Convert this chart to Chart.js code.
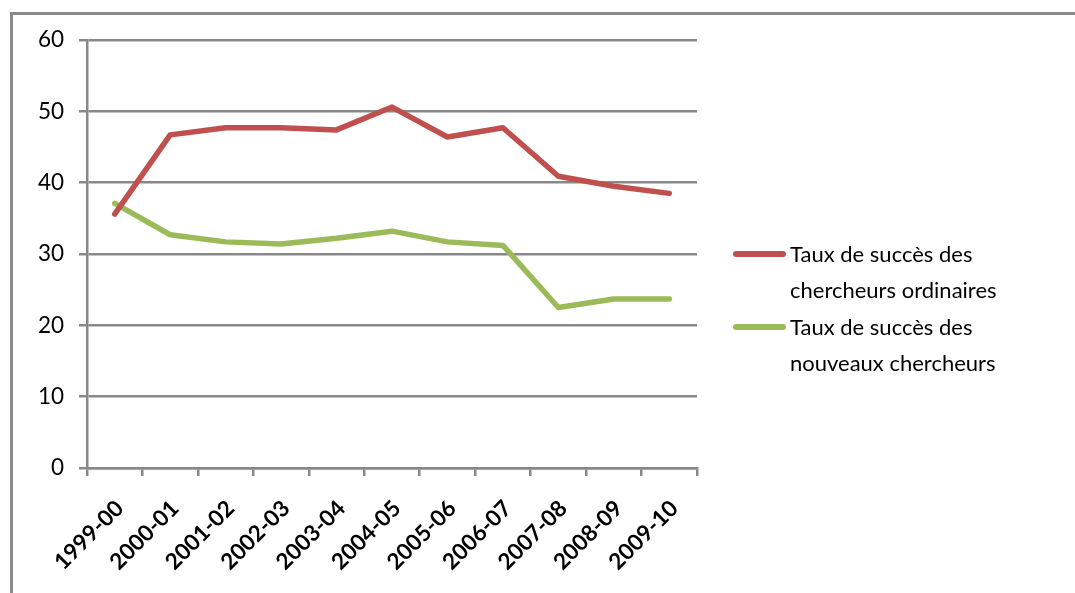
<!DOCTYPE html>
<html>
<head>
<meta charset="utf-8">
<script src="https://cdn.jsdelivr.net/npm/chart.js@4.4.1/dist/chart.umd.min.js"></script>
<style>
    body { margin: 0; background: #fff; }
    #wrap { position: relative; width: 1075px; height: 593px; overflow: hidden; }
    #frame {
        position: absolute; left: 10px; top: 12px; width: 1100px; height: 620px;
        border: 3px solid #898989; box-sizing: border-box;
    }
    #chart { position: absolute; left: 0; top: 0; }
    .legend-item { position: absolute; left: 733px; font-family: Lato, sans-serif; font-size: 22px; line-height: 36px; color: #000; }
    .legend-item .swatch { position: absolute; left: 0; top: 15px; width: 53px; height: 6px; border-radius: 3px; }
    .legend-item .text { margin-left: 57px; white-space: nowrap; }
</style>
</head>
<body>
<div id="wrap">
    <div id="frame"></div>
    <canvas id="chart" width="1075" height="593"></canvas>
    <div id="legend"></div>
</div>
<script>
// Chart data
const years = ['1999-00', '2000-01', '2001-02', '2002-03', '2003-04', '2004-05',
               '2005-06', '2006-07', '2007-08', '2008-09', '2009-10'];
const ordinaryRates = [35.6, 46.7, 47.7, 47.7, 47.4, 50.6, 46.4, 47.7, 40.9, 39.5, 38.5];
const newRates = [37.1, 32.7, 31.7, 31.4, 32.2, 33.2, 31.7, 31.2, 22.5, 23.7, 23.7];
const seriesLabels = [
    ['Taux de succès des', 'chercheurs ordinaires'],
    ['Taux de succès des', 'nouveaux chercheurs']
];
const yTicks = [0, 10, 20, 30, 40, 50, 60];

const red = '#C0504D';
const green = '#9BBB59';
const gridColor = '#888888';

const chart = new Chart(document.getElementById('chart'), {
    type: 'line',
    data: {
        labels: years,
        datasets: [
            {
                label: seriesLabels[0].join(' '),
                data: ordinaryRates,
                borderColor: red,
                backgroundColor: red,
                borderWidth: 5.5,
                borderCapStyle: 'round',
                borderJoinStyle: 'round',
                pointRadius: 0,
                tension: 0,
                fill: false
            },
            {
                label: seriesLabels[1].join(' '),
                data: newRates,
                borderColor: green,
                backgroundColor: green,
                borderWidth: 5.5,
                borderCapStyle: 'round',
                borderJoinStyle: 'round',
                pointRadius: 0,
                tension: 0,
                fill: false
            }
        ]
    },
    options: {
        responsive: false,
        animation: false,
        layout: { padding: { top: 40, right: 378, left: 0, bottom: 0 } },
        plugins: { legend: { display: false }, tooltip: { enabled: false } },
        scales: {
            x: {
                offset: true,
                grid: { offset: true, drawOnChartArea: false, color: gridColor, lineWidth: 2.5, tickLength: 8 },
                border: { display: true, color: gridColor, width: 2.5 },
                ticks: { color: '#000', font: { family: 'Lato, sans-serif', size: 22.5, weight: 'bold' },
                         minRotation: 45, maxRotation: 45, padding: 19, labelOffset: 5, autoSkip: false },
                afterFit: scale => { scale.height = 125; }
            },
            y: {
                min: 0,
                max: 60,
                afterBuildTicks: scale => { scale.ticks = yTicks.map(v => ({ value: v })); },
                grid: { color: gridColor, lineWidth: 2.5, tickLength: 8 },
                border: { display: true, color: gridColor, width: 2.5 },
                ticks: { color: '#000', font: { family: 'Lato, sans-serif', size: 22.5 }, padding: 15 },
                afterFit: scale => { scale.width = 87; }
            }
        }
    }
});

// Legend built from the datasets, placed to the right of the plot
const legendTops = [236, 309];
const legend = document.getElementById('legend');
chart.data.datasets.forEach((ds, i) => {
    const item = document.createElement('div');
    item.className = 'legend-item';
    item.style.top = legendTops[i] + 'px';
    item.innerHTML = '<div class="swatch" style="background:' + ds.borderColor + '"></div>' +
        '<div class="text">' + seriesLabels[i].join('<br>') + '</div>';
    legend.appendChild(item);
});
</script>
</body>
</html>
